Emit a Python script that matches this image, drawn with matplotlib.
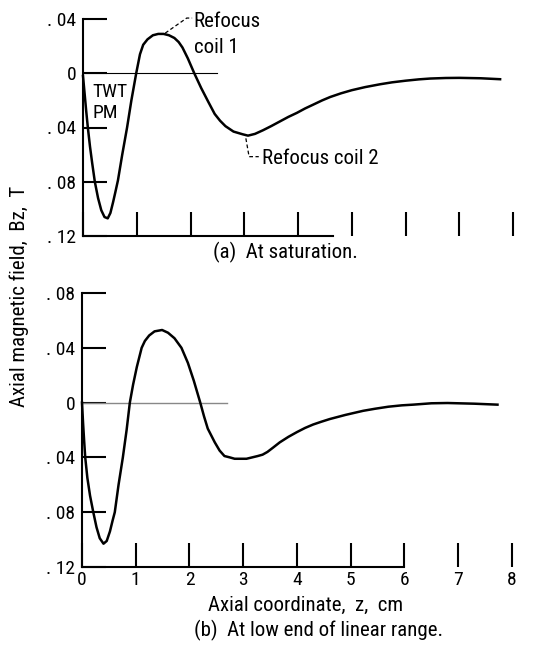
import matplotlib.pyplot as plt
from matplotlib.ticker import FixedLocator, FuncFormatter

# narrow sans to mimic the report typeface (falls back to DejaVu Sans)
plt.rcParams['font.family'] = ['Liberation Sans Narrow', 'Roboto Condensed', 'DejaVu Sans']
plt.rcParams['font.stretch'] = 'condensed'

# (a) at saturation, z in cm, Bz in T
z_sat = [0.00, 0.03, 0.06, 0.09, 0.13, 0.17, 0.22, 0.28, 0.34, 0.40, 0.46, 0.51,
         0.56, 0.60, 0.65, 0.73, 0.82, 0.90, 0.99, 1.06, 1.12, 1.20, 1.30, 1.40,
         1.50, 1.60, 1.70, 1.78, 1.85, 1.95, 2.07, 2.20, 2.33, 2.45, 2.55, 2.65,
         2.80, 2.97, 3.07, 3.20, 3.35, 3.50, 3.66, 3.82, 3.98, 4.13, 4.28, 4.45,
         4.60, 4.80, 5.00, 5.25, 5.53, 5.75, 6.00, 6.25, 6.46, 6.75, 7.00, 7.40,
         7.76]
bz_sat = [-0.002, -0.015, -0.028, -0.040, -0.054, -0.066, -0.080, -0.092, -0.101,
          -0.106, -0.107, -0.103, -0.095, -0.088, -0.079, -0.060, -0.040, -0.020,
          0.000, 0.014, 0.021, 0.025, 0.028, 0.029, 0.029, 0.028, 0.026, 0.023,
          0.019, 0.011, 0.000, -0.011, -0.021, -0.030, -0.035, -0.039, -0.043,
          -0.045, -0.046, -0.0447, -0.042, -0.039, -0.0356, -0.0322, -0.0292,
          -0.026, -0.0232, -0.020, -0.0175, -0.0148, -0.0125, -0.0102, -0.0081,
          -0.0067, -0.0055, -0.0045, -0.0039, -0.0035, -0.0034, -0.0037, -0.0044]

# (b) at low end of linear range
z_lin = [0.00, 0.02, 0.04, 0.06, 0.10, 0.15, 0.21, 0.27, 0.33, 0.40, 0.46, 0.52,
         0.57, 0.61, 0.68, 0.76, 0.83, 0.89, 0.95, 1.02, 1.11, 1.17, 1.25, 1.35,
         1.49, 1.60, 1.72, 1.85, 1.97, 2.08, 2.20, 2.27, 2.34, 2.47, 2.56, 2.65,
         2.75, 2.84, 3.06, 3.27, 3.36, 3.45, 3.55, 3.68, 3.84, 4.00, 4.15, 4.30,
         4.45, 4.61, 4.90, 5.23, 5.45, 5.70, 5.95, 6.16, 6.50, 6.80, 7.30, 7.73]
bz_lin = [0.000, -0.015, -0.028, -0.040, -0.055, -0.068, -0.080, -0.091, -0.099,
          -0.103, -0.101, -0.094, -0.086, -0.080, -0.060, -0.040, -0.020, 0.000,
          0.013, 0.026, 0.040, 0.045, 0.049, 0.052, 0.053, 0.051, 0.047, 0.040,
          0.029, 0.016, 0.000, -0.010, -0.019, -0.029, -0.035, -0.039, -0.040,
          -0.041, -0.041, -0.039, -0.038, -0.036, -0.033, -0.029, -0.025, -0.0215,
          -0.0185, -0.016, -0.014, -0.012, -0.009, -0.006, -0.0045, -0.003, -0.002,
          -0.0015, -0.0005, -0.0003, -0.0008, -0.0015]

x_ticks = [0, 1, 2, 3, 4, 5, 6, 7, 8]
y_ticks_sat = [0.04, 0, -0.04, -0.08, -0.12]
y_ticks_lin = [0.08, 0.04, 0, -0.04, -0.08, -0.12]


def ylab(v, pos):
    if abs(v) < 1e-9:
        return '0'
    return '. %02d' % round(abs(v) * 100)


FS = 15      # captions / annotations
TFS = 14     # tick labels
fig = plt.figure(figsize=(5.34, 6.57), dpi=100)
ax1 = fig.add_axes([83 / 534, 421 / 657, 430 / 534, 217 / 657])
ax2 = fig.add_axes([82 / 534, 90 / 657, 430 / 534, 274 / 657])

for ax, ylim, yt, bound in [(ax1, (-0.12, 0.04), y_ticks_sat, 4.65),
                            (ax2, (-0.12, 0.08), y_ticks_lin, 6.0)]:
    ax.set_xlim(0, 8)
    ax.set_ylim(*ylim)
    ax.spines['top'].set_visible(False)
    ax.spines['right'].set_visible(False)
    ax.spines['left'].set_linewidth(1.5)
    ax.spines['bottom'].set_linewidth(1.5)
    ax.spines['bottom'].set_bounds(0, bound)
    ax.xaxis.set_major_locator(FixedLocator(x_ticks))
    ax.yaxis.set_major_locator(FixedLocator(yt))
    ax.yaxis.set_major_formatter(FuncFormatter(ylab))
    ax.tick_params(direction='in', length=17, width=1.5, labelsize=TFS)
    ax.tick_params(axis='y', pad=5)
    ax.tick_params(axis='x', pad=3)
    for t in ax.xaxis.get_major_ticks() + ax.yaxis.get_major_ticks():
        t.tick1line.set_clip_on(False)

ax1.tick_params(axis='x', labelbottom=False)

ax1.plot([0, 2.5], [0, 0], color='black', lw=0.8)
ax1.plot(z_sat, bz_sat, color='black', lw=1.8, clip_on=False)
ax2.plot([0, 2.7], [0, 0], color='#888888', lw=1.0)
ax2.plot(z_lin, bz_lin, color='black', lw=1.8, clip_on=False)

# annotations on (a)
ax1.plot([1.53, 1.93, 2.03], [0.0296, 0.0407, 0.0407], color='black', lw=0.9,
         ls=(0, (3, 2)), clip_on=False)
ax1.text(2.06, 0.0385, 'Refocus', fontsize=FS, va='center', ha='left')
ax1.text(2.06, 0.019, 'coil 1', fontsize=FS, va='center', ha='left')
ax1.plot([3.03, 3.09, 3.27], [-0.048, -0.0615, -0.0615], color='black', lw=0.9,
         ls=(0, (3, 2)), clip_on=False)
ax1.text(3.33, -0.063, 'Refocus coil 2', fontsize=FS, va='center', ha='left')
ax1.text(0.17, -0.0135, 'TWT', fontsize=14, va='center', ha='left')
ax1.text(0.17, -0.0295, 'PM', fontsize=14, va='center', ha='left')

fig.text(285 / 534, 1 - 252 / 657, '(a)  At saturation.', fontsize=FS,
         ha='center', va='center')
fig.text(306 / 534, 1 - 605 / 657, 'Axial coordinate,  z,  cm', fontsize=FS,
         ha='center', va='center')
fig.text(319 / 534, 1 - 630 / 657, '(b)  At low end of linear range.', fontsize=FS,
         ha='center', va='center')
fig.text(19 / 534, 1 - 296 / 657, 'Axial magnetic field,  Bz,  T', fontsize=FS,
         ha='center', va='center', rotation=90)

fig.savefig('out.png', dpi=100)
